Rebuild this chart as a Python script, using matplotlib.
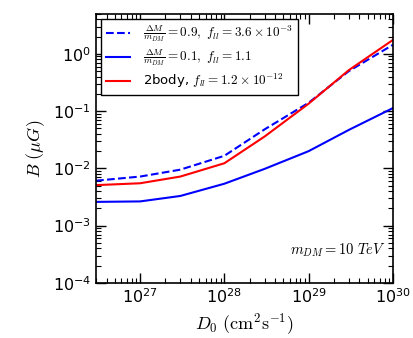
import numpy as np
import matplotlib
matplotlib.use('Agg')
import matplotlib.pyplot as plt

plt.rcParams['mathtext.fontset'] = 'cm'
plt.rcParams['font.family'] = 'DejaVu Sans'

# Diffusion coefficient D0 (cm^2 s^-1)
D0 = [3e26, 1e27, 3e27, 1e28, 3e28, 1e29, 3e29, 1e30]

# Magnetic field B (micro Gauss) for each scenario
B_dm09 = [6.1e-3, 7.2e-3, 9.5e-3, 1.66e-2, 4.8e-2, 0.14, 0.50, 1.44]
B_dm01 = [2.6e-3, 2.65e-3, 3.3e-3, 5.4e-3, 9.8e-3, 2.0e-2, 4.7e-2, 0.113]
B_2body = [5.1e-3, 5.5e-3, 7.2e-3, 1.23e-2, 3.6e-2, 0.135, 0.52, 1.75]

fig = plt.figure(figsize=(4.14, 3.38), dpi=100)
ax = fig.add_axes([0.232, 0.163, 0.717, 0.796])

ax.plot(D0, B_dm09, 'b--', linewidth=1.5,
        label=r'$\frac{\Delta M}{m_{DM}}=0.9,\ f_{ll}=3.6\times10^{-3}$')
ax.plot(D0, B_dm01, 'b-', linewidth=1.5,
        label=r'$\frac{\Delta M}{m_{DM}}=0.1,\ f_{ll}=1.1$')
ax.plot(D0, B_2body, 'r-', linewidth=1.5,
        label=r'2body, $f_{ll}=1.2\times10^{-12}$')

ax.set_xscale('log')
ax.set_yscale('log')
ax.set_xlim(3e26, 1e30)
ax.set_ylim(1e-4, 5)

ax.set_xticks([1e27, 1e28, 1e29, 1e30])
ax.set_yticks([1e-4, 1e-3, 1e-2, 1e-1, 1e0])
ax.tick_params(which='both', direction='in', top=True, right=True, labelsize=11.5)
ax.tick_params(which='major', length=7, width=1)
ax.tick_params(which='minor', length=3.5, width=0.8)
for s in ax.spines.values():
    s.set_linewidth(1.2)

ax.set_xlabel(r'$D_0\ (\mathrm{cm^2 s^{-1}})$', fontsize=13)
ax.set_ylabel(r'$B\ (\mu G)$', fontsize=13)

ax.text(0.975, 0.12, r'$m_{DM}=10\ TeV$', transform=ax.transAxes,
        ha='right', va='center', fontsize=10.5)

leg = ax.legend(loc='upper left', fontsize=9.5, fancybox=False,
                edgecolor='black', framealpha=1, handlelength=1.8,
                borderaxespad=0.4, borderpad=0.35, labelspacing=0.3,
                handletextpad=1.0)
leg.get_frame().set_linewidth(1.0)

fig.savefig('out.png', dpi=100)
